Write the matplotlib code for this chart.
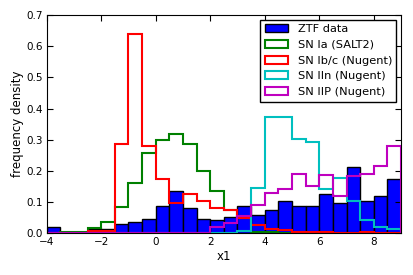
import numpy as np
import matplotlib.pyplot as plt

edges = np.arange(-4, 9.01, 0.5)
centers = edges[:-1] + 0.25

ztf = [0.020, 0.003, 0.001, 0.013, 0.013, 0.029, 0.037, 0.044, 0.088, 0.135,
       0.082, 0.044, 0.043, 0.051, 0.088, 0.059, 0.074, 0.104, 0.088, 0.088,
       0.127, 0.097, 0.211, 0.104, 0.119, 0.173]
sn_ia = [0.0, 0.003, 0.005, 0.018, 0.037, 0.084, 0.161, 0.256, 0.299, 0.317,
         0.287, 0.200, 0.136, 0.075, 0.048, 0.005, 0.003, 0.002, 0.0, 0.0,
         0.0, 0.0, 0.0, 0.0, 0.0, 0.0]
sn_ibc = [0.0, 0.0, 0.0, 0.006, 0.007, 0.286, 0.638, 0.280, 0.174, 0.096,
          0.126, 0.104, 0.081, 0.074, 0.048, 0.027, 0.014, 0.010, 0.005, 0.003,
          0.005, 0.001, 0.001, 0.004, 0.002, 0.001]
sn_iin = [0.0, 0.0, 0.0, 0.0, 0.0, 0.0, 0.0, 0.0, 0.0, 0.0,
          0.0, 0.0, 0.0, 0.0, 0.008, 0.144, 0.374, 0.374, 0.301, 0.292,
          0.141, 0.176, 0.104, 0.042, 0.021, 0.013]
sn_iip = [0.0, 0.0, 0.0, 0.0, 0.0, 0.0, 0.0, 0.0, 0.0, 0.002,
          0.002, 0.002, 0.019, 0.034, 0.056, 0.091, 0.128, 0.141, 0.191, 0.153,
          0.188, 0.121, 0.185, 0.189, 0.216, 0.280]

plt.rcParams['font.family'] = 'DejaVu Sans'
fig = plt.figure(figsize=(4.13, 2.75), dpi=100)
ax = fig.add_axes([0.113, 0.152, 0.858, 0.793])

ax.hist(centers, bins=edges, weights=ztf, color='blue', edgecolor='black',
        linewidth=1, label='ZTF data')
ax.hist(centers, bins=edges, weights=sn_ia, histtype='step', color='green',
        linewidth=1.5, label='SN Ia (SALT2)')
ax.hist(centers, bins=edges, weights=sn_ibc, histtype='step', color='red',
        linewidth=1.5, label='SN Ib/c (Nugent)')
ax.hist(centers, bins=edges, weights=sn_iin, histtype='step', color='c',
        linewidth=1.5, label='SN IIn (Nugent)')
ax.hist(centers, bins=edges, weights=sn_iip, histtype='step', color='m',
        linewidth=1.5, label='SN IIP (Nugent)')

ax.set_xlim(-4, 9)
ax.set_ylim(0, 0.7)
ax.set_xticks([-4, -2, 0, 2, 4, 6, 8])
ax.set_xticklabels(['\u22124', '\u22122', '0', '2', '4', '6', '8'])
ax.set_yticks(np.arange(0, 0.71, 0.1))
ax.tick_params(direction='in', top=True, right=True, labelsize=7.5, length=4, pad=3)
ax.set_xlabel('x1', fontsize=8.5, labelpad=2)
ax.set_ylabel('frequency density', fontsize=8.5, labelpad=1.5)

leg = ax.legend(loc='upper right', fontsize=8.2, fancybox=False, framealpha=1,
                edgecolor='black', borderaxespad=0.4, handlelength=2.1,
                labelspacing=0.5, borderpad=0.4)
leg.get_frame().set_linewidth(1)

fig.savefig('out.png', dpi=100)
